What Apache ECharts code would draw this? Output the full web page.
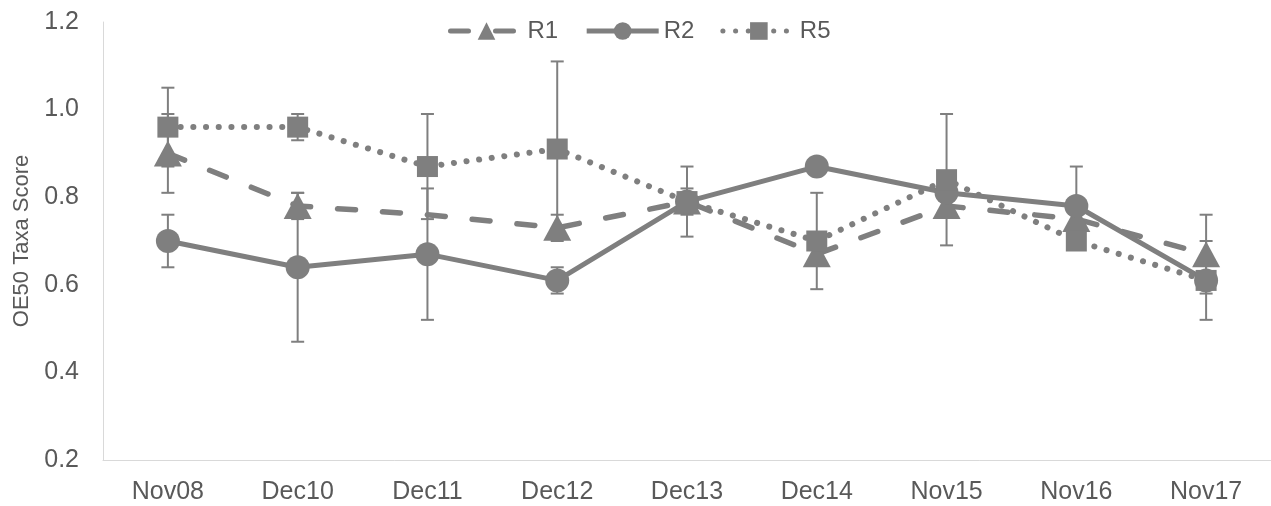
<!DOCTYPE html>
<html>
<head>
<meta charset="utf-8">
<script src="https://cdn.jsdelivr.net/npm/echarts@6/dist/echarts.min.js"></script>
<style>html,body{margin:0;padding:0;background:#fff}#c{width:1271px;height:506px}</style>
</head>
<body>
<div id="c"></div>
<script>
const categories = ['Nov08','Dec10','Dec11','Dec12','Dec13','Dec14','Nov15','Nov16','Nov17'];
const r1 = [0.90, 0.78, 0.76, 0.73, 0.79, 0.67, 0.78, 0.75, 0.67];
const r1Err = [0.09, 0.03, 0, 0.03, 0.02, 0.02, 0.02, 0.02, 0.09];
const r2 = [0.70, 0.64, 0.67, 0.61, 0.79, 0.87, 0.81, 0.78, 0.61];
const r2Err = [0.06, 0.17, 0.15, 0.03, 0.03, 0, 0.02, 0.09, 0.02];
const r5 = [0.96, 0.96, 0.87, 0.91, 0.79, 0.70, 0.84, 0.70, 0.61];
const r5Err = [0.09, 0.03, 0.12, 0.20, 0.08, 0.11, 0.15, 0.02, 0.09];
const yTicks = [0.2, 0.4, 0.6, 0.8, 1.0, 1.2];

const GRAY = '#7f7f7f';
const TEXT = '#595959';
const FONT = 'Liberation Sans, Arial, sans-serif';

function errData(vals, errs) {
  const out = [];
  vals.forEach((v, i) => { if (errs[i] > 0) out.push([i, v - errs[i], v + errs[i]]); });
  return out;
}
const errAll = [].concat(errData(r1, r1Err), errData(r2, r2Err), errData(r5, r5Err));

const chart = echarts.init(document.getElementById('c'), null, {renderer: 'canvas'});
chart.setOption({
  animation: false,
  textStyle: {fontFamily: FONT},
  grid: {left: 103, right: 0, top: 22, bottom: 46, containLabel: false},
  legend: {
    top: 14, left: 443,
    itemWidth: 72, itemHeight: 22, itemGap: 26,
    lineStyle: {width: 5},
    textStyle: {fontSize: 24, color: TEXT, fontFamily: FONT},
    data: ['R1', 'R2', 'R5']
  },
  xAxis: {
    type: 'category', data: categories, boundaryGap: true,
    axisLine: {lineStyle: {color: '#d9d9d9', width: 1}},
    axisTick: {show: false},
    axisLabel: {fontSize: 25, color: TEXT, margin: 20, fontFamily: FONT}
  },
  yAxis: {
    type: 'value', min: yTicks[0], max: yTicks[yTicks.length - 1], interval: 0.2,
    name: 'OE50 Taxa Score', nameLocation: 'middle', nameGap: 70,
    nameTextStyle: {fontSize: 22, color: TEXT, fontFamily: FONT},
    axisLine: {show: true, lineStyle: {color: '#d9d9d9', width: 1}},
    axisTick: {show: false},
    splitLine: {show: false},
    axisLabel: {fontSize: 25, color: TEXT, margin: 24, fontFamily: FONT,
      formatter: v => v.toFixed(1)}
  },
  series: [
    {
      name: 'errors', type: 'custom', z: 1, silent: true,
      data: errAll,
      renderItem: function (params, api) {
        const x = api.value(0), lo = api.value(1), hi = api.value(2);
        const pLo = api.coord([x, lo]), pHi = api.coord([x, hi]);
        const hw = 6.5;
        const st = {stroke: GRAY, lineWidth: 2};
        return {type: 'group', children: [
          {type: 'line', shape: {x1: pHi[0], y1: pHi[1], x2: pLo[0], y2: pLo[1]}, style: st},
          {type: 'line', shape: {x1: pHi[0] - hw, y1: pHi[1], x2: pHi[0] + hw, y2: pHi[1]}, style: st},
          {type: 'line', shape: {x1: pLo[0] - hw, y1: pLo[1], x2: pLo[0] + hw, y2: pLo[1]}, style: st}
        ]};
      }
    },
    {
      name: 'R1', type: 'line', z: 2,
      data: r1.map((v, i) => i === 2 ? {value: v, symbol: 'none'} : v),
      symbol: 'triangle', symbolSize: [28, 26],
      lineStyle: {color: GRAY, width: 5.5, type: [18, 27], cap: 'round'},
      itemStyle: {color: GRAY}
    },
    {
      name: 'R2', type: 'line', z: 3,
      data: r2,
      symbol: 'circle', symbolSize: 24,
      lineStyle: {color: GRAY, width: 5, type: 'solid'},
      itemStyle: {color: GRAY}
    },
    {
      name: 'R5', type: 'line', z: 4,
      data: r5,
      symbol: 'rect', symbolSize: 21,
      lineStyle: {color: GRAY, width: 6, type: [0.1, 12.6], cap: 'round'},
      itemStyle: {color: GRAY}
    }
  ]
});
</script>
</body>
</html>
